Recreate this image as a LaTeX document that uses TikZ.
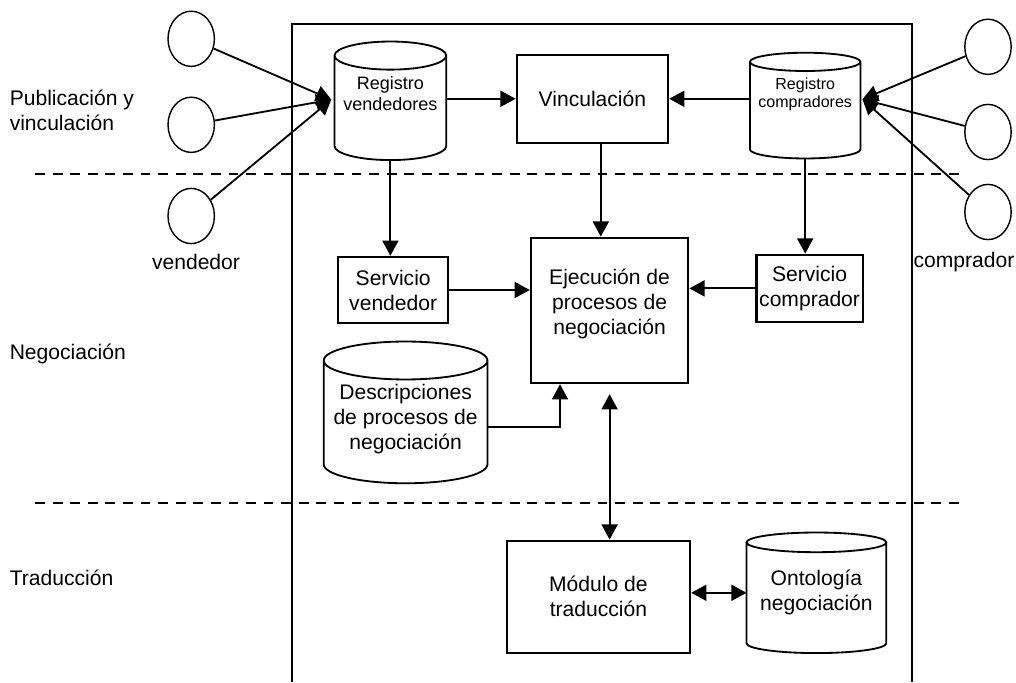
\documentclass[tikz,border=0pt]{standalone}
\usepackage{fontspec}
\setmainfont{Liberation Sans}
\usetikzlibrary{arrows.meta, positioning, calc, shapes.geometric}

% outline of a data store round a named node: #1 node, #2 cap radius
\newcommand{\drawcyl}[2]{%
  \draw[cylline] let \p1=(#1.north west), \p2=(#1.south east) in
    (\x1,{\y1-#2}) -- (\x1,{\y2+#2})
    arc[start angle=180, end angle=360, x radius={(\x2-\x1)/2}, y radius=#2]
    -- (\x2,{\y1-#2})
    ({(\x1+\x2)/2},{\y1-#2}) ellipse[x radius={(\x2-\x1)/2}, y radius=#2];
}

\begin{document}
\begin{tikzpicture}[
    every node/.style={font=\fontsize{15}{17.8}\selectfont},
    lab/.style={anchor=west, align=left},
    proc/.style={rectangle, draw, line width=1.7pt, align=center, inner sep=2pt},
    store/.style={rectangle, align=center, inner sep=1pt},
    cylline/.style={line width=1.3pt},
    actor/.style={ellipse, draw, line width=1.0pt, minimum width=1.16cm,
                  minimum height=1.38cm},
    arr/.style={-{Triangle[length=0.38cm, width=0.40cm]}, line width=1.3pt},
    arrb/.style={{Triangle[length=0.38cm, width=0.40cm]}-{Triangle[length=0.38cm, width=0.40cm]},
                 line width=1.3pt},
    sep/.style={dash pattern=on 7pt off 5.5pt, line width=1.0pt},
]
\useasboundingbox (0,0) rectangle (25.4,17.05);

% ================================================================ frame and layers
\draw[line width=1.7pt] (7.30,0) -- (7.30,16.45) -- (22.80,16.45) -- (22.80,0);
\draw[sep] (0.88,12.70) -- (24.15,12.70);
\draw[sep] (0.88,4.48) -- (24.15,4.48);

\node[lab] (lpub) at (0.12,14.30) {Publicación y\\vinculación};
\node[lab] (lneg) at (0.12,8.20) {Negociación};
\node[lab] (ltra) at (0.12,2.60) {Traducción};

% ================================================================ registries
\node[store, minimum width=2.78cm, minimum height=2.95cm, text depth=10.7pt,
      font=\fontsize{12.8}{15}\selectfont] (rv) at (9.76,14.53) {Registro\\vendedores};
\node[store, minimum width=2.75cm, minimum height=2.63cm, text depth=18.8pt,
      font=\fontsize{11.4}{12.8}\selectfont] (rc) at (20.13,14.41) {Registro\\compradores};
\node[proc, minimum width=3.78cm, minimum height=2.2cm] (vinc) at (14.81,14.58) {Vinculación};
\drawcyl{rv}{10pt}
\drawcyl{rc}{6.5pt}

% ================================================================ negotiation
\node[proc, minimum width=3.93cm, minimum height=3.63cm, text depth=11.8pt] (ejec) at (15.24,9.29)
    {Ejecución de\\procesos de\\negociación};
\node[proc, minimum width=2.75cm, minimum height=1.65cm] (sv) at (9.83,9.80) {Servicio\\vendedor};
\node[proc, minimum width=2.63cm, minimum height=1.68cm] (sc) at (20.24,9.84) {Servicio\\comprador};
\node[store, minimum width=4.08cm, minimum height=3.53cm, text height=56.5pt] (desc) at (10.14,6.74)
    {Descripciones\\de procesos de\\negociación};
\drawcyl{desc}{13.5pt}

% ================================================================ translation
\node[proc, minimum width=4.58cm, minimum height=2.8cm] (mod) at (14.96,2.13) {Módulo de\\traducción};
\node[store, minimum width=3.48cm, minimum height=3.0cm] (ont) at (20.41,2.23) {Ontología\\negociación};
\drawcyl{ont}{7pt}

% ================================================================ actors
\node[actor] (v1) at (4.78,16.08) {};
\node[actor] (v2) at (4.78,13.93) {};
\node[actor] (v3) at (4.78,11.65) {};
\node (vlab) at (4.90,10.50) {vendedor};
\node[actor] (c1) at (24.70,15.88) {};
\node[actor] (c2) at (24.70,13.75) {};
\node[actor] (c3) at (24.70,11.75) {};
\node (clab) at (24.10,10.50) {comprador};

\coordinate (vin) at ([xshift=-0.08cm, yshift=0.03cm]rv.west);
\coordinate (cin) at ([xshift=0.05cm, yshift=0.16cm]rc.east);
\foreach \a in {v1,v2,v3}{
    \draw[arr] (\a) -- (vin);
}
\foreach \a in {c1,c2,c3}{
    \draw[arr] (\a) -- (cin);
}

% ================================================================ flows
\draw[arr] (rv.east |- vinc.west) -- (vinc.west);
\draw[arr] (rc.west |- vinc.east) -- (vinc.east);
\draw[arr] (rv.south) -- (rv.south |- sv.north);
\draw[arr] ([xshift=-0.22cm]ejec.north |- vinc.south) -- ([xshift=-0.22cm]ejec.north);
\draw[arr] (rc.south) -- (rc.south |- sc.north);
\draw[arr] (sv.east) -- (sv.east -| ejec.west);
\draw[arr] (sc.west) -- (sc.west -| ejec.east);
\draw[arr] ([yshift=-0.36cm]desc.east) -| ([xshift=-1.24cm]ejec.south);
\draw[arrb, shorten <=0.25cm] (ejec.south) -- (ejec.south |- mod.north);
\draw[arrb] (ont.west -| mod.east) -- (ont.west);

\end{tikzpicture}
\end{document}
